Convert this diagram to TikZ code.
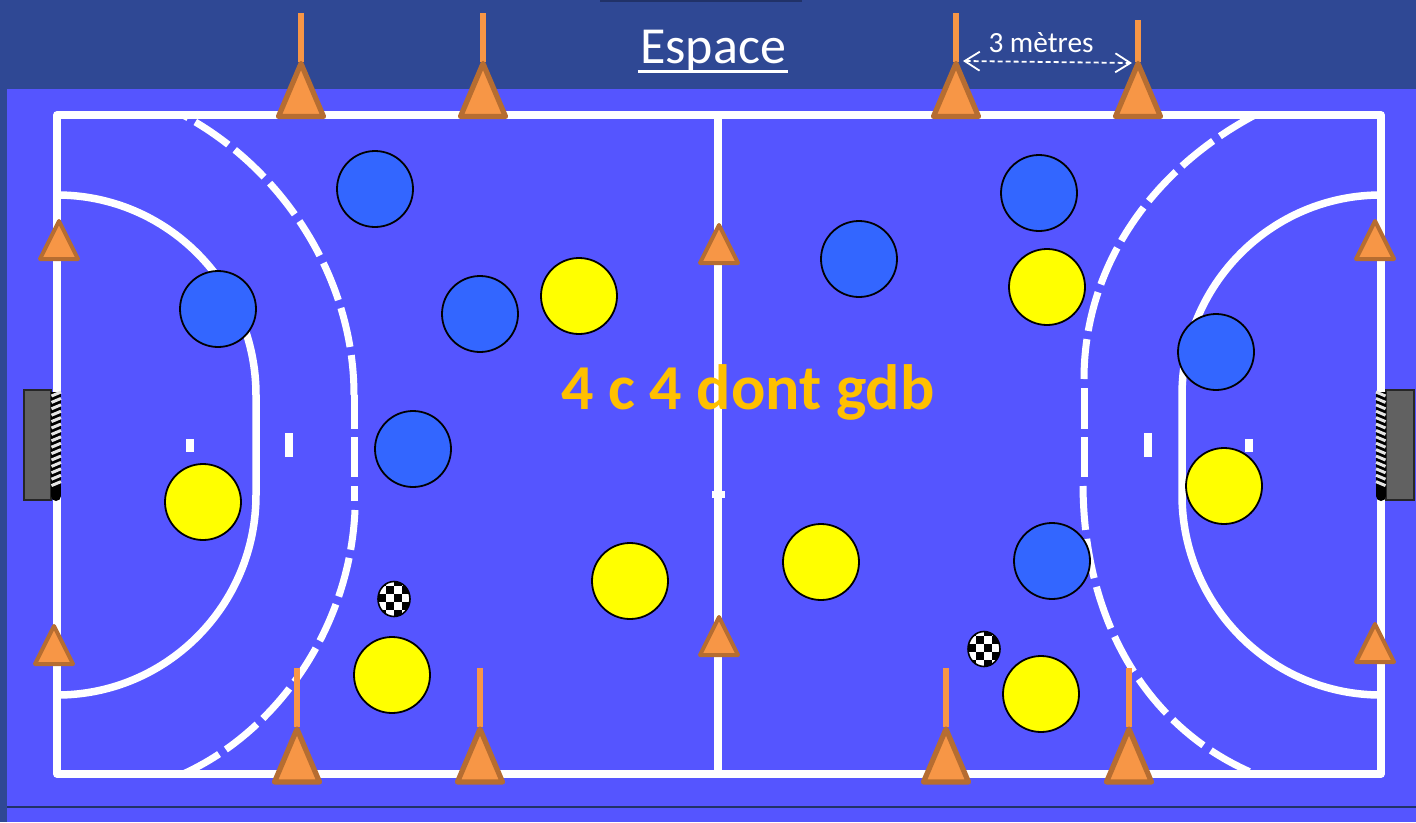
\documentclass[tikz,border=0pt]{standalone}
\usepackage{fontspec}
\setmainfont{Carlito}
\usetikzlibrary{arrows.meta,positioning,calc}
\definecolor{slide}{HTML}{2F4894}
\definecolor{court}{HTML}{5555FF}
\definecolor{teamblue}{HTML}{3366FF}
\definecolor{teamyellow}{HTML}{FFFF00}
\definecolor{conefill}{HTML}{F79646}
\definecolor{coneline}{HTML}{B66D31}
\definecolor{goldtext}{HTML}{FFC000}

\begin{document}
\begin{tikzpicture}[x=1pt, y=-1pt, >=Stealth,
    courtline/.style={draw=white, line width=7.5pt, line join=round},
    dashline/.style={draw=white, line width=7pt, dash pattern=on 40pt off 8.3pt},
    tick/.style={fill=white, draw=none},
    blueplayer/.style={circle, draw=black, line width=1.8pt, fill=teamblue, minimum size=76pt, inner sep=0pt},
    yellowplayer/.style={circle, draw=black, line width=1.8pt, fill=teamyellow, minimum size=76pt, inner sep=0pt},
    cage/.style={draw=black!85, line width=1.4pt, fill=black!62},
    bigcone/.pic={
      \fill[conefill] (-2.8,-55) rectangle (2.8,-#1);
      \draw[coneline, fill=conefill, line width=5.2pt, line join=round] (0,-53) -- (22.5,0) -- (-22.5,0) -- cycle;
    },
    smallcone/.pic={
      \draw[coneline, fill=conefill, line width=4pt, line join=round] (0,-38) -- (19,0) -- (-19,0) -- cycle;
    },
    ball/.pic={
      \begin{scope}
        \clip (0,0) ellipse (16 and 17.5);
        \fill[white] (-17,-19) rectangle (17,19);
        \foreach \i in {-3,...,2} \foreach \j in {-3,...,2} {
          \pgfmathparse{int(mod(\i+\j+6,2))}
          \ifnum\pgfmathresult=1 \fill[black] (8*\i,8*\j+3) rectangle +(8,8); \fi
        }
      \end{scope}
      \draw[black, line width=1.6pt] (0,0) ellipse (16 and 17.5);
    }]
  \useasboundingbox (0,0) rectangle (1416,822);
  % background and playing area
  \fill[slide] (0,0) rectangle (1416,822);
  \fill[slide!70!black] (600,0) rectangle (802,1.5);
  \fill[court] (7,89) rectangle (1416,822);
  \draw[black!30!slide, line width=1.5pt] (7,807) -- (1416,807);
  % court
  \draw[courtline] (57,115) rectangle (1381,774);
  \draw[courtline] (718,115) -- (718,774);
  \draw[courtline] (57,195) .. controls (167,195) and (256,285) .. (256,395) -- (256,495) .. controls (256,605) and (167,695) .. (57,695);
  \draw[courtline] (1381,195) .. controls (1271,195) and (1182,285) .. (1182,395) -- (1182,495) .. controls (1182,605) and (1271,695) .. (1381,695);
  % nine metres line, left then right
  \draw[dashline] (354,395) .. controls (354,280) and (285,170) .. (183,115);
  \draw[dashline, dash pattern=on 34pt off 8pt on 40pt off 9pt on 15pt off 50pt] (354,395) -- (354,501);
  \draw[dashline] (355,510) .. controls (350,625) and (280,730) .. (183,774);
  \draw[dashline] (1084,379) .. controls (1084,270) and (1148,172) .. (1255,115);
  \draw[dashline, dash pattern=on 41pt off 8pt on 40pt off 50pt] (1084,388) -- (1084,477);
  \draw[dashline, dash pattern=on 44pt off 9pt on 40pt off 9pt] (1083,486) .. controls (1084,625) and (1150,730) .. (1255,774);
  \fill[tick] (186,439) rectangle (194,452);
  \fill[tick] (285,433) rectangle (293,457);
  \fill[tick] (1144,433) rectangle (1152,457);
  \fill[tick] (1245,439) rectangle (1253,452);
  \fill[tick] (712,491) rectangle (725,498);
  % goals
  \draw[cage] (24,390) rectangle (51,500);
  \draw[black, line width=10pt] (56,392) -- (56,496);
  \foreach \y in {0,...,14} \draw[white!90!black, line width=3pt] (51.5,396+6.4*\y) -- (61,392+6.4*\y);
  \fill[black] (56,496) circle (5);
  \draw[cage] (1386,390) rectangle (1414,500);
  \draw[black, line width=10pt] (1381,392) -- (1381,496);
  \foreach \y in {0,...,14} \draw[white!90!black, line width=3pt] (1385.5,396+6.4*\y) -- (1376,392+6.4*\y);
  \fill[black] (1381,496) circle (5);
  % cones
  \pic at (301,116.5) {bigcone=104};
  \pic at (483,116.5) {bigcone=104};
  \pic at (956,116.5) {bigcone=104};
  \pic at (1138,116.5) {bigcone=97};
  \pic at (297,782) {bigcone=114};
  \pic at (480,782) {bigcone=114};
  \pic at (946,782) {bigcone=114};
  \pic at (1129,782) {bigcone=114};
  \pic at (59,259) {smallcone};
  \pic at (719,263) {smallcone};
  \pic at (1375,259) {smallcone};
  \pic at (54,664) {smallcone};
  \pic at (719,655) {smallcone};
  \pic at (1375,662) {smallcone};
  % players
  \node[blueplayer] (blueA) at (375,189) {};
  \node[blueplayer] (blueB) at (218,309) {};
  \node[blueplayer] (blueC) at (480,314) {};
  \node[blueplayer] (blueD) at (413,449) {};
  \node[blueplayer] (blueE) at (859,259) {};
  \node[blueplayer] (blueF) at (1039,193) {};
  \node[blueplayer] (blueG) at (1216,352) {};
  \node[blueplayer] (blueH) at (1052,561) {};
  \node[yellowplayer] (yellowA) at (579,296) {};
  \node[yellowplayer] (yellowB) at (203,502) {};
  \node[yellowplayer] (yellowC) at (630,581) {};
  \node[yellowplayer] (yellowD) at (392,675) {};
  \node[yellowplayer] (yellowE) at (821,562) {};
  \node[yellowplayer] (yellowF) at (1047,287) {};
  \node[yellowplayer] (yellowG) at (1224,486) {};
  \node[yellowplayer] (yellowH) at (1041,694) {};
  % balls
  \pic at (394,599) {ball};
  \pic at (984,649) {ball};
  % texts and the distance arrow
  \node[text=white, anchor=base, inner xsep=2pt, inner ysep=0pt, font=\fontsize{52}{52}\selectfont] (title) at (713,63) {Espace};
  \draw[white, line width=2.5pt] ([yshift=-8.5pt]title.base west) -- ([yshift=-8.5pt]title.base east);
  \node[text=goldtext, anchor=base, font=\fontsize{64}{64}\selectfont\bfseries] (theme) at (748,409) {4 c 4 dont gdb};
  \coordinate (gapL) at (963,61);
  \coordinate (gapR) at (1132,63);
  \draw[{Straight Barb[length=15pt,width=19pt]}-{Straight Barb[length=15pt,width=19pt]}, white, line width=1.8pt, dash pattern=on 5pt off 3pt] (gapL) -- (gapR);
  \node[text=white, anchor=base, font=\fontsize{29.3}{30}\selectfont] (gaplabel) at (1041,52) {3 mètres};
\end{tikzpicture}
\end{document}
